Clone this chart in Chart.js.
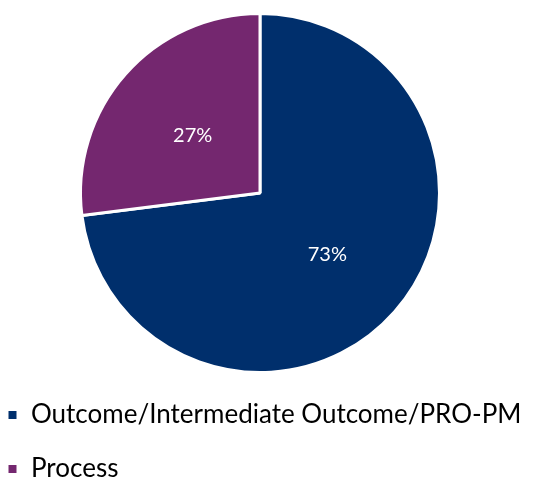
<!DOCTYPE html>
<html>
<head>
<meta charset="utf-8">
<script src="https://cdn.jsdelivr.net/npm/chart.js@4/dist/chart.umd.min.js"></script>
<style>
  html, body { margin: 0; padding: 0; background: #fff; overflow: hidden; }
  #wrap { width: 562px; height: 481px; margin-left: -21px; }
</style>
</head>
<body>
<div id="wrap"><canvas id="myChart"></canvas></div>
<script>
let labels = ["Outcome/Intermediate Outcome/PRO-PM", "Process"];
let values = [73, 27];
let colors = ["#002F6C", "#74276F"];

// percent labels in the middle of each slice
let sliceLabels = {
  id: "sliceLabels",
  afterDatasetsDraw(chart) {
    let ctx = chart.ctx;
    let meta = chart.getDatasetMeta(0);
    let total = values.reduce((a, b) => a + b, 0);
    ctx.save();
    ctx.fillStyle = "#fff";
    ctx.font = "20px Lato";
    ctx.textAlign = "center";
    ctx.textBaseline = "middle";
    meta.data.forEach((arc, i) => {
      let p = arc.tooltipPosition();
      ctx.fillText(Math.round(values[i] / total * 100) + "%", p.x, p.y + 2);
    });
    ctx.restore();
  }
};

let chart = new Chart(document.getElementById("myChart"), {
  type: "pie",
  data: {
    labels,
    datasets: [{
      data: values,
      backgroundColor: colors,
      borderColor: "#fff",
      borderWidth: 3
    }]
  },
  options: {
    responsive: true,
    maintainAspectRatio: false,
    animation: false,
    layout: { padding: { top: 12, left: 0, right: 0, bottom: -11 } },
    plugins: {
      tooltip: { enabled: false },
      legend: {
        position: "bottom",
        align: "start",
        labels: {
          boxWidth: 11,
          boxHeight: 11,
          padding: 28,
          color: "#000",
          font: { family: "Lato", size: 26 }
        }
      }
    }
  },
  plugins: [sliceLabels]
});
</script>
</body>
</html>
